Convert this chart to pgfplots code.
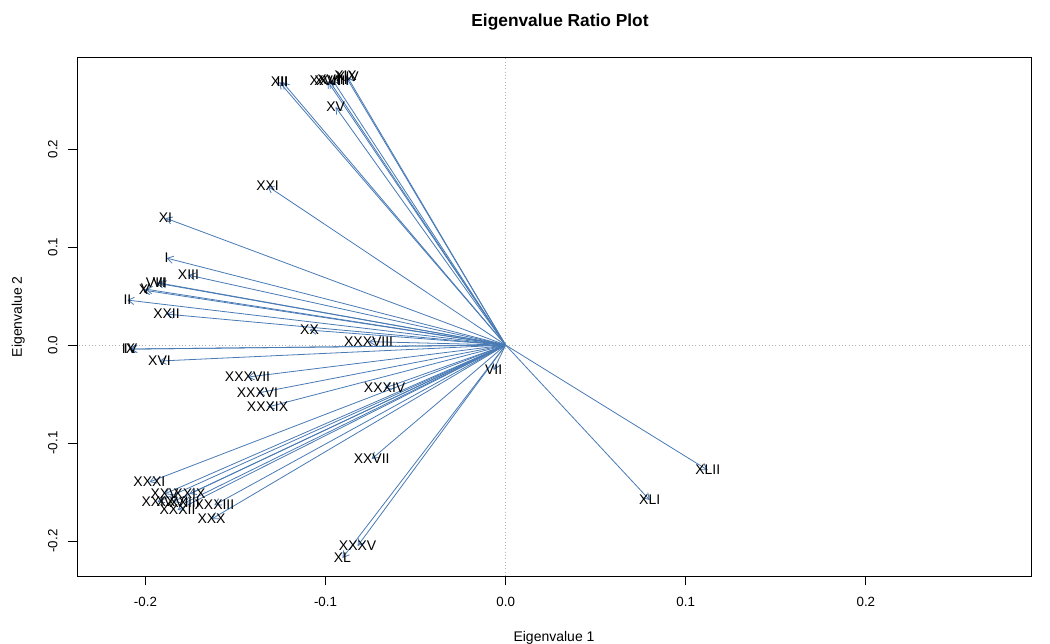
\documentclass[border=0pt]{standalone}
\usepackage{fontspec}
\setmainfont{Liberation Sans}
\usepackage{pgfplots}
\usepackage{pgfplotstable}
\pgfplotsset{compat=1.18}
\usetikzlibrary{arrows.meta}
\definecolor{arrowblue}{RGB}{72,122,180}
\pgfplotstableread{
x y label
-0.1883 0.0888 I
-0.2100 0.0459 II
-0.1239 0.2684 III
-0.2083 -0.0041 IV
-0.2000 0.0571 V
-0.1922 0.0633 VI
-0.0067 -0.0255 VII
-0.1939 0.0633 VIII
-0.2094 -0.0041 IX
-0.2011 0.0561 X
-0.1889 0.1296 XI
-0.1256 0.2684 XII
-0.1761 0.0714 XIII
-0.0878 0.2735 XIV
-0.0944 0.2429 XV
-0.1922 -0.0163 XVI
-0.0989 0.2694 XVII
-0.0961 0.2704 XVIII
-0.0889 0.2745 XIX
-0.1089 0.0153 XX
-0.1322 0.1622 XXI
-0.1883 0.0316 XXII
-0.1783 -0.1612 XXIII
-0.1933 -0.1602 XXIV
-0.1894 -0.1520 XXV
-0.1850 -0.1602 XXVI
-0.0744 -0.1163 XXVII
-0.0978 0.2694 XXVIII
-0.1756 -0.1520 XXIX
-0.1633 -0.1776 XXX
-0.1978 -0.1398 XXXI
-0.1822 -0.1684 XXXII
-0.1617 -0.1633 XXXIII
-0.0672 -0.0439 XXXIV
-0.0822 -0.2051 XXXV
-0.1378 -0.0490 XXXVI
-0.1433 -0.0327 XXXVII
-0.0761 0.0035 XXXVIII
-0.1322 -0.0633 XXXIX
-0.0906 -0.2173 XL
0.0800 -0.1582 XLI
0.1122 -0.1276 XLII
}\eigdata
\begin{document}
\begin{tikzpicture}
\useasboundingbox (-57.75pt,-50.25pt) rectangle (729.75pt,432pt);
\begin{axis}[
  at={(0,0)}, anchor=south west,
  scale only axis, width=715.5pt, height=389.25pt,
  xmin=-0.238, xmax=0.2917, ymin=-0.2357, ymax=0.294,
  axis line style={black, line width=0.6pt},
  xtick={-0.2,-0.1,0,0.1,0.2},
  xticklabels={-0.2,-0.1,0.0,0.1,0.2},
  ytick={-0.2,-0.1,0,0.1,0.2},
  yticklabels={-0.2,-0.1,0.0,0.1,0.2},
  xtick pos=bottom, ytick pos=left,
  tick align=outside, major tick length=7pt,
  tick style={black, line width=0.6pt},
  ticklabel style={font=\fontsize{10}{12}\selectfont},
  xticklabel style={yshift=-5pt},
  yticklabel style={rotate=90, anchor=south, xshift=0pt, yshift=4pt},
  clip=true,
]
\addplot[gray!60, dotted, line width=0.5pt] coordinates {(0,-0.3) (0,0.35)};
\addplot[gray!60, dotted, line width=0.5pt] coordinates {(-0.3,0) (0.35,0)};
\addplot[arrowblue, line width=0.6pt,
  -{Straight Barb[length=4.5pt,width=5.5pt,line width=0.6pt]},
  quiver={u=\thisrow{x}, v=\thisrow{y}}]
  table[x expr=0, y expr=0] {\eigdata};
\addplot[only marks, mark=none, nodes near coords, point meta=explicit symbolic,
  nodes near coords style={anchor=center, text=black, font=\fontsize{10.5}{12}\selectfont, inner sep=0pt}]
  table[x=x, y=y, meta=label] {\eigdata};
\end{axis}
\node[font=\bfseries\fontsize{13}{15}\selectfont] at (362.25pt,415.5pt) {Eigenvalue Ratio Plot};
\node[font=\fontsize{10.5}{12}\selectfont] at (357.75pt,-46.5pt) {Eigenvalue 1};
\node[font=\fontsize{10.5}{12}\selectfont, rotate=90] at (-44pt,194.5pt) {Eigenvalue 2};
\end{tikzpicture}
\end{document}
